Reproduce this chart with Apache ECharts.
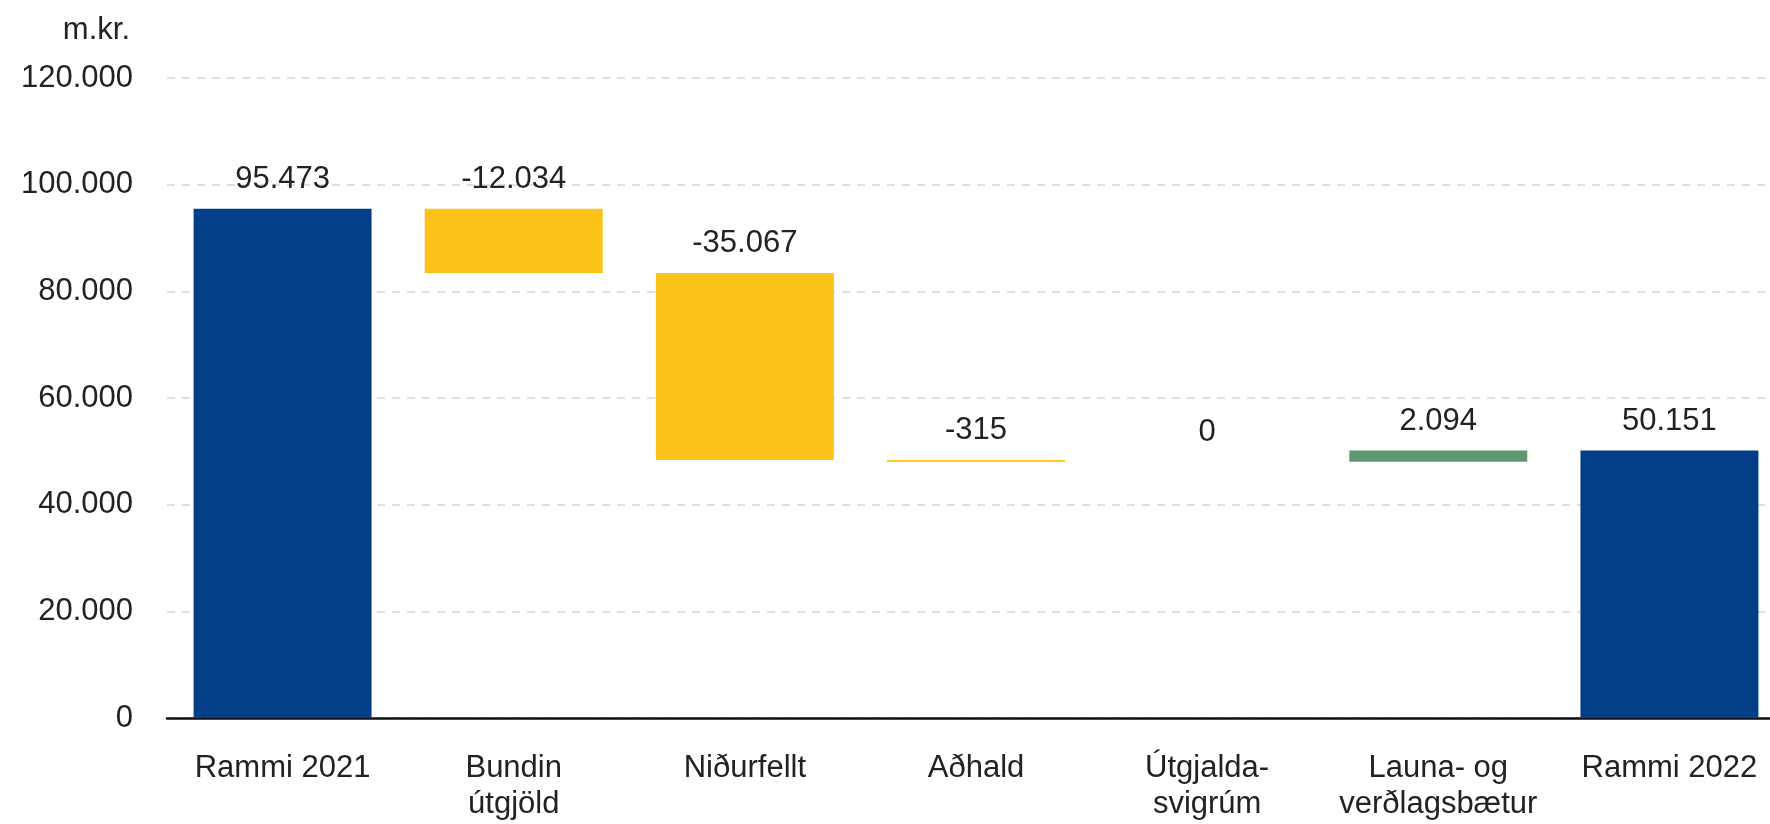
<!DOCTYPE html>
<html>
<head>
<meta charset="utf-8">
<script src="https://cdn.jsdelivr.net/npm/echarts@6/dist/echarts.min.js"></script>
<style>
  html, body { margin: 0; padding: 0; background: #fff; }
  #main { width: 1770px; height: 824px; }
</style>
</head>
<body>
<div id="main"></div>
<script>
// flokkar og breytingar (m.kr.)
let categories = ['Rammi 2021', 'Bundin\nútgjöld', 'Niðurfellt', 'Aðhald', 'Útgjalda-\nsvigrúm', 'Launa- og\nverðlagsbætur', 'Rammi 2022'];
let changes = [95473, -12034, -35067, -315, 0, 2094, 50151];
let isTotal = [true, false, false, false, false, false, true];

let colTotal = '#023f88';
let colNeg = '#fbc21a';
let colPos = '#5f9870';

function fmt(v){
    let s = Math.abs(v).toString().replace(/\B(?=(\d{3})+(?!\d))/g, '.');
    return (v < 0 ? '-' : '') + s;
}

// byggja fossagraf: ósýnilegur grunnur + sýnileg stöng
let baseData = [];
let barData = [];
let running = 0;
for (let i = 0; i < changes.length; i++) {
    let v = changes[i];
    if (isTotal[i]) {
        running = v;
        baseData.push(0);
        barData.push({value: v, itemStyle: {color: colTotal}});
        continue;
    }
    if (v < 0) {
        running += v;
        baseData.push(running);
        barData.push({value: -v, itemStyle: {color: colNeg}});
    } else {
        baseData.push(running);
        barData.push({value: v, itemStyle: {color: colPos}});
        running += v;
    }
}

let font = '"Liberation Sans", Arial, sans-serif';

let myChart = echarts.init(document.getElementById('main'));
let option = {
    animation: false,
    textStyle: {fontFamily: font},
    grid: {
        left: 167,
        top: 78,
        width: 1618,
        bottom: 106,
        outerBoundsMode: 'none',
        containLabel: false
    },
    xAxis: {
        type: 'category',
        data: categories,
        axisLine: {lineStyle: {color: '#111', width: 2.5}},
        axisTick: {show: false},
        axisLabel: {
            interval: 0,
            color: '#222',
            fontSize: 31,
            lineHeight: 36,
            margin: 32,
            fontFamily: font
        }
    },
    yAxis: {
        type: 'value',
        min: 0,
        max: 120000,
        interval: 20000,
        name: 'm.kr.',
        nameLocation: 'end',
        nameGap: 32,
        nameTextStyle: {
            color: '#222',
            fontSize: 31,
            align: 'right',
            padding: [0, 37, 0, 0],
            fontFamily: font
        },
        axisLine: {show: false},
        axisTick: {show: false},
        axisLabel: {
            color: '#222',
            fontSize: 31,
            margin: 34,
            fontFamily: font,
            formatter: function(v){ return fmt(v); }
        },
        splitLine: {
            lineStyle: {color: '#d6d6d6', type: [8, 7], width: 1.5}
        }
    },
    series: [
        {
            name: 'grunnur',
            type: 'bar',
            stack: 'foss',
            barWidth: '77%',
            itemStyle: {color: 'transparent'},
            emphasis: {disabled: true},
            data: baseData
        },
        {
            name: 'breyting',
            type: 'bar',
            stack: 'foss',
            barWidth: '77%',
            data: barData,
            label: {
                show: true,
                position: 'top',
                distance: 14,
                color: '#222',
                fontSize: 31,
                fontFamily: font,
                formatter: function(p){ return fmt(changes[p.dataIndex]); }
            }
        }
    ]
};
myChart.setOption(option);
</script>
</body>
</html>
